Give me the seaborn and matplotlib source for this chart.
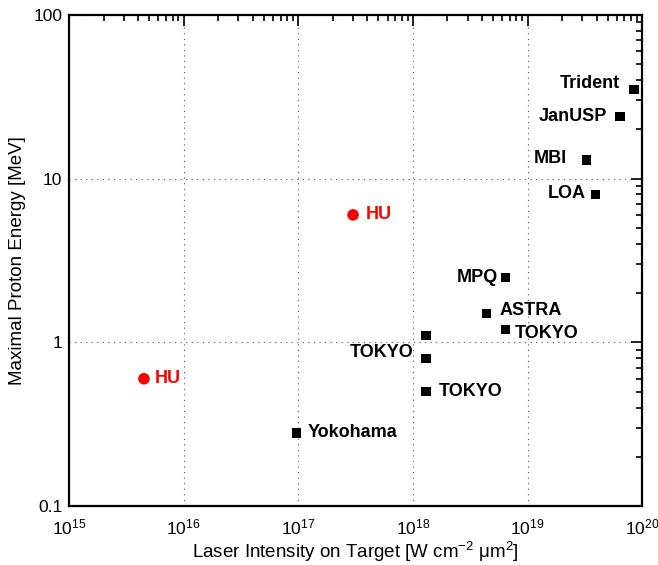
import matplotlib
matplotlib.use("Agg")
import matplotlib.pyplot as plt
import matplotlib.ticker as mticker
import seaborn as sns
import pandas as pd
import numpy as np

# ---- data ----
labels = ["HU", "HU", "Yokohama", "TOKYO", "TOKYO", "TOKYO", "ASTRA", "TOKYO", "MPQ",
          "LOA", "MBI", "JanUSP", "Trident"]
intensity = [4.5e15, 3.0e17, 9.6e16, 1.3e18, 1.3e18, 1.3e18, 4.4e18, 6.4e18, 6.4e18,
             3.9e19, 3.25e19, 6.4e19, 8.5e19]
energy = [0.6, 6.0, 0.28, 1.1, 0.8, 0.5, 1.5, 1.2, 2.5, 8.0, 13.0, 24.0, 35.0]
group = ["HU", "HU", "other", "other", "other", "other", "other", "other", "other",
         "other", "other", "other", "other"]
# label placement: (dx, dy) in points, horizontal alignment; "" = no label
label_text = ["HU", "HU", "Yokohama", "", "TOKYO", "TOKYO", "ASTRA", "TOKYO", "MPQ",
              "LOA", "MBI", "JanUSP", "Trident"]
label_off = [(8, 0), (9, 0), (8, 0), (0, 0), (-9, 4), (9, 0), (9, 2), (7, -3), (-5, 0),
             (-7, 1), (-14, 1), (-9, 0), (-10, 4)]
label_ha = ["left", "left", "left", "left", "right", "left", "left", "left", "right",
            "right", "right", "right", "right"]

x_ticks = [1e15, 1e16, 1e17, 1e18, 1e19, 1e20]
y_ticks = [0.1, 1, 10, 100]
y_ticklabels = ["0.1", "1", "10", "100"]

df = pd.DataFrame({"intensity": intensity, "energy": energy, "group": group})

sns.set_style("white")
plt.rcParams["font.family"] = ["Liberation Sans", "DejaVu Sans"]
plt.rcParams["mathtext.fontset"] = "custom"
plt.rcParams["mathtext.rm"] = "Liberation Sans"
plt.rcParams["mathtext.it"] = "Liberation Sans:italic"
plt.rcParams["mathtext.default"] = "regular"
plt.rcParams["text.color"] = "black"
plt.rcParams["axes.labelcolor"] = "black"
plt.rcParams["xtick.color"] = "black"
plt.rcParams["ytick.color"] = "black"

fig = plt.figure(figsize=(6.58, 5.65), dpi=100)
ax = fig.add_axes([0.105, 0.104, 0.871, 0.870])

sns.scatterplot(data=df, x="intensity", y="energy", hue="group", style="group",
                size="group", sizes={"HU": 70, "other": 45},
                palette={"HU": "#ff0000", "other": "black"},
                markers={"HU": "o", "other": "s"},
                edgecolor="none", legend=False, ax=ax, zorder=3)
ax.set_xscale("log")
ax.set_yscale("log")
ax.set_xlim(1e15, 1e20)
ax.set_ylim(0.1, 100)

for xi, yi, t, off, ha, g in zip(intensity, energy, label_text, label_off, label_ha, group):
    if not t:
        continue
    ax.annotate(t, (xi, yi), xytext=off, textcoords="offset points",
                ha=ha, va="center", fontsize=13, fontweight="bold",
                color="#ff0000" if g == "HU" else "black")

ax.xaxis.set_major_locator(mticker.FixedLocator(x_ticks))
ax.xaxis.set_minor_locator(mticker.LogLocator(base=10, subs=np.arange(2, 10), numticks=20))
ax.yaxis.set_major_locator(mticker.FixedLocator(y_ticks))
ax.yaxis.set_major_formatter(mticker.FixedFormatter(y_ticklabels))
ax.yaxis.set_minor_locator(mticker.LogLocator(base=10, subs=np.arange(2, 10), numticks=20))
ax.yaxis.set_minor_formatter(mticker.NullFormatter())

ax.grid(True, which="major", linestyle=(0, (1, 4)), color="#555555", linewidth=0.8)
ax.tick_params(which="both", direction="in", top=True, right=True, labelsize=12.5,
               width=1.2, colors="black", labelcolor="black")
ax.tick_params(which="major", length=8)
ax.tick_params(axis="x", which="major", pad=8)
ax.tick_params(axis="y", which="major", pad=5)
ax.tick_params(which="minor", length=4)
for sp in ax.spines.values():
    sp.set_linewidth(1.6)
    sp.set_color("black")

ax.set_xlabel(r"Laser Intensity on Target [W cm$^{-2}$ $\mu$m$^{2}$]", fontsize=13.5,
              labelpad=2, color="black")
ax.set_ylabel("Maximal Proton Energy [MeV]", fontsize=13.5, labelpad=5, color="black")

fig.savefig("out.png", dpi=100)
